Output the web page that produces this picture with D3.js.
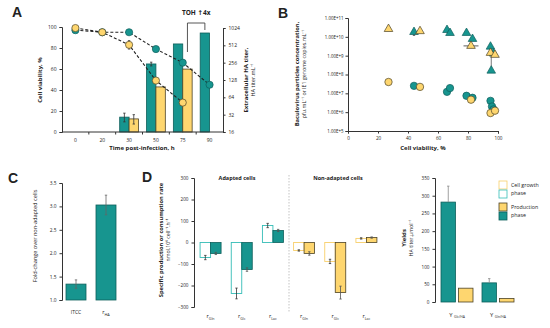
<!DOCTYPE html>
<html><head><meta charset="utf-8">
<script src="https://cdn.jsdelivr.net/npm/d3@7"></script>
<style>
body{margin:0;background:#fff}
svg{display:block}
text{font-family:"Open Sans","Liberation Sans",sans-serif;fill:#222}
</style>
</head><body>
<svg id="chart" width="550" height="328"></svg>
<script>
// ---------- Panel A data ----------
const timeLabels = ["0","20","30","50","75","90"];
const viabilityAdapted = [97,95,95,79,66,45];
const viabilityNonAdapted = [99,95,83,49,28,null];
const viabilityNonAdaptedErr = [0,0,4,2,0,0];
const titerAdapted = [null,null,29,243,541,838];
const titerNonAdapted = [null,null,27,97,198,null];
const titerAdaptedErr = [0,0,5,18,0,0];
const titerNonAdaptedErr = [0,0,5,0,0,0];
const viabilityTicks = [0,20,40,60,80,100];
const titerTicks = [16,32,64,128,256,512,1024];

// ---------- Panel B data ----------
const triAdaptedViab = [44,66,68,79,83,95,97,95.5];
const triAdaptedConc = [1.8e10,2.3e10,1.6e10,1.6e10,7.7e9,3e9,1.3e9,1.6e8];
const triNonAdaptedViab = [27,48,82,95,98];
const triNonAdaptedConc = [2.6e10,2e10,3.3e9,1.4e9,1.1e9];
const cirAdaptedViab = [44,66,68,79,83,95,96,97];
const cirAdaptedConc = [2.5e7,1.2e7,1.9e7,7.4e6,5.8e6,4e6,2e6,1.4e6];
const cirNonAdaptedViab = [27,48,82,95,98];
const cirNonAdaptedConc = [4e7,2.2e7,4.6e6,9e5,1.2e6];
const bViabTicks = [0,20,40,60,80,100];
const bConcTicks = [1e5,1e6,1e7,1e8,1e9,1e10,1e11];

// ---------- Panel C data ----------
const foldCats = ["ITCC","rHA"];
const foldValues = [1.34,3.03];
const foldErr = [0.09,0.21];
const foldTicks = [1.0,1.5,2.0,2.5,3.0,3.5];

// ---------- Panel D data ----------
const rateNames = ["Gln","Glc","Lac","Gln","Glc","Lac"];
const rateIsAdapted = [true,true,true,false,false,false];
const rateGrowth = [-70,-237,79,-37,-88,19];
const rateProduction = [-51,-126,56,-51,-233,23];
const rateGrowthErr = [10,25,10,3,10,3];
const rateProductionErr = [5,8,5,8,30,3];
const rateTicks = [-300,-200,-100,0,100,200,300];

const yieldNames = ["Glc/HA","Gln/HA"];
const yieldAdapted = [282,54];
const yieldNonAdapted = [39,10];
const yieldAdaptedErr = [45,12];
const yieldTicks = [0,50,100,150,200,250,300,350];

// ---------- styles ----------
const TEAL = "#17958f", TEAL_DK = "#0e5f5b", TEAL_LT = "#35bdb7";
const YEL = "#fed66f", YEL_DK = "#4d4325", YEL_LT = "#f8cf6a";
const AX = "#333";
const svg = d3.select("#chart");

function styleAxis(g, fs){
  g.selectAll("path.domain").attr("stroke",AX).attr("stroke-width",1);
  g.selectAll(".tick line").attr("stroke",AX);
  g.selectAll(".tick text").attr("font-size",fs||5).attr("fill","#222")
   .style("font-family",'"Open Sans","Liberation Sans",sans-serif');
}
function panelLetter(t,x,y){
  svg.append("text").attr("x",x).attr("y",y).attr("font-size",14).attr("font-weight",700)
    .style("font-family",'"Liberation Sans",Arial,sans-serif').text(t);
}
function rotLabel(x,y,txt,fs,bold){
  return svg.append("text").attr("transform",`translate(${x},${y}) rotate(-90)`)
    .attr("text-anchor","middle").attr("font-size",fs).attr("font-weight",bold?700:400).text(txt);
}
function errBar(g,x,y1,y2,w,col){
  g.append("line").attr("x1",x).attr("x2",x).attr("y1",y1).attr("y2",y2).attr("stroke",col||"#333").attr("stroke-width",0.8);
  g.append("line").attr("x1",x-w).attr("x2",x+w).attr("y1",y1).attr("y2",y1).attr("stroke",col||"#333").attr("stroke-width",0.8);
  g.append("line").attr("x1",x-w).attr("x2",x+w).attr("y1",y2).attr("y2",y2).attr("stroke",col||"#333").attr("stroke-width",0.8);
}

// ================= PANEL A =================
panelLetter("A",12,17);
const xA = d3.scaleBand().domain(timeLabels).range([62,223]);
const yA = d3.scaleLinear().domain([0,100]).range([132,27]);
const yA2 = d3.scaleLog().base(2).domain([16,1024]).range([132,28]);
const gA = svg.append("g");
const bwA = xA.bandwidth()*0.35;
const cA = t => xA(t)+xA.bandwidth()/2;

timeLabels.forEach((t,i)=>{
  if(titerAdapted[i]!=null){
    gA.append("rect").attr("x",cA(t)-bwA).attr("width",bwA).attr("y",yA2(titerAdapted[i]))
      .attr("height",132-yA2(titerAdapted[i])).attr("fill",TEAL).attr("stroke",TEAL_DK).attr("stroke-width",0.8);
    if(titerAdaptedErr[i]) errBar(gA,cA(t)-bwA/2,yA2(titerAdapted[i]+titerAdaptedErr[i]),yA2(titerAdapted[i]-titerAdaptedErr[i]),1.2);
  }
  if(titerNonAdapted[i]!=null){
    gA.append("rect").attr("x",cA(t)).attr("width",bwA).attr("y",yA2(titerNonAdapted[i]))
      .attr("height",132-yA2(titerNonAdapted[i])).attr("fill",YEL).attr("stroke",YEL_DK).attr("stroke-width",0.8);
    if(titerNonAdaptedErr[i]) errBar(gA,cA(t)+bwA/2,yA2(titerNonAdapted[i]+titerNonAdaptedErr[i]),yA2(titerNonAdapted[i]-titerNonAdaptedErr[i]),1.2);
  }
});
const axA = gA.append("g").attr("transform","translate(62,0)")
  .call(d3.axisLeft(yA).tickValues(viabilityTicks).tickSize(2.5).tickPadding(3));
styleAxis(axA,5);
const axA2 = gA.append("g").attr("transform","translate(223,0)")
  .call(d3.axisRight(yA2).tickValues(titerTicks).tickFormat(d3.format("d")).tickSize(2.5).tickPadding(3));
styleAxis(axA2,5);
const axAx = gA.append("g").attr("transform","translate(0,132)")
  .call(d3.axisBottom(xA).tickSize(0).tickPadding(6));
styleAxis(axAx,5);
axAx.select("path.domain").attr("d","M62,0H223");
timeLabels.slice(1).forEach(t=>{
  gA.append("line").attr("x1",xA(t)).attr("x2",xA(t)).attr("y1",132).attr("y2",134.5).attr("stroke",AX);
});
const lineA = d3.line().defined(d=>d.v!=null).x(d=>cA(d.t)).y(d=>yA(d.v));
const adData = timeLabels.map((t,i)=>({t,v:viabilityAdapted[i]}));
const naData = timeLabels.map((t,i)=>({t,v:viabilityNonAdapted[i]}));
gA.append("path").attr("d",lineA(adData)).attr("fill","none").attr("stroke","#222").attr("stroke-width",1.1).attr("stroke-dasharray","3,2");
gA.append("path").attr("d",lineA(naData)).attr("fill","none").attr("stroke","#222").attr("stroke-width",1.1).attr("stroke-dasharray","3,2");
naData.forEach((d,i)=>{ if(d.v!=null && viabilityNonAdaptedErr[i]) errBar(gA,cA(d.t),yA(d.v+viabilityNonAdaptedErr[i]),yA(d.v-viabilityNonAdaptedErr[i]),1.2);});
adData.forEach(d=>{ gA.append("circle").attr("cx",cA(d.t)).attr("cy",yA(d.v)).attr("r",3.6).attr("fill",TEAL).attr("stroke",TEAL_DK).attr("stroke-width",0.7);});
naData.forEach(d=>{ if(d.v!=null) gA.append("circle").attr("cx",cA(d.t)).attr("cy",yA(d.v)).attr("r",3.6).attr("fill",YEL).attr("stroke",YEL_DK).attr("stroke-width",0.7);});
const bx1 = cA("75")+bwA/2, bx2 = cA("90")-bwA/2;
gA.append("path").attr("d",`M${bx1},52V23H${bx2}V30`).attr("fill","none").attr("stroke","#444").attr("stroke-width",0.9);
const toh = svg.append("text").attr("x",(bx1+bx2)/2).attr("y",15).attr("text-anchor","middle").attr("font-size",6.5).attr("font-weight",700);
toh.append("tspan").text("TOH ");
toh.append("tspan").style("font-family",'"DejaVu Sans",sans-serif').text("\u2191");
toh.append("tspan").text("4x");
rotLabel(42,80,"Cell viability, %",6,true);
rotLabel(248,80,"Extracellular HA titer,",6,true);
rotLabel(255,80,"HA titer.mL\u207B\u00B9",5.5,false);
svg.append("text").attr("x",142).attr("y",150).attr("text-anchor","middle").attr("font-size",6).attr("font-weight",700).text("Time post-infection, h");

// ================= PANEL B =================
panelLetter("B",278,18);
const xB = d3.scaleLinear().domain([0,100]).range([348,498]);
const yB = d3.scaleLog().domain([1e5,1e11]).range([131,18]);
const gB = svg.append("g");
const axBy = gB.append("g").attr("transform","translate(348,0)")
  .call(d3.axisLeft(yB).tickValues(bConcTicks).tickFormat(d=>d.toExponential(2).toUpperCase()).tickSize(2.5).tickPadding(2));
styleAxis(axBy,4.4);
const axBx = gB.append("g").attr("transform","translate(0,131)")
  .call(d3.axisBottom(xB).tickValues(bViabTicks).tickSize(2.5).tickPadding(3));
styleAxis(axBx,4.6);
errBar(gB,xB(44),yB(1.8e10),yB(1.2e10),1.2);
gB.append("line").attr("x1",xB(77)).attr("x2",xB(87)).attr("y1",yB(3.3e9)).attr("y2",yB(3.3e9)).attr("stroke","#333").attr("stroke-width",0.8);
errBar(gB,xB(95.5),yB(1.3e9),yB(1.6e8),1.2,"#555");
const tri = d3.symbol().type(d3.symbolTriangle).size(32);
function triPts(xs,ys,fill,stroke){
  xs.forEach((x,i)=>gB.append("path").attr("d",tri).attr("transform",`translate(${xB(x)},${yB(ys[i])})`)
    .attr("fill",fill).attr("stroke",stroke).attr("stroke-width",0.7));
}
function cirPts(xs,ys,fill,stroke){
  xs.forEach((x,i)=>gB.append("circle").attr("cx",xB(x)).attr("cy",yB(ys[i])).attr("r",3.7)
    .attr("fill",fill).attr("stroke",stroke).attr("stroke-width",0.7));
}
triPts(triAdaptedViab,triAdaptedConc,TEAL,TEAL_DK);
triPts(triNonAdaptedViab,triNonAdaptedConc,YEL,YEL_DK);
cirPts(cirAdaptedViab,cirAdaptedConc,TEAL,TEAL_DK);
cirPts(cirNonAdaptedViab,cirNonAdaptedConc,YEL,YEL_DK);
rotLabel(299,74,"Baculovirus particles concentration,",5.8,true);
rotLabel(305.5,74,"pfu.mL\u207B\u00B9 or IE1 genome copies.mL\u207B\u00B9",5.3,false);
svg.append("text").attr("x",423).attr("y",150).attr("text-anchor","middle").attr("font-size",6).attr("font-weight",700).text("Cell viability, %");

// ================= PANEL C =================
panelLetter("C",8,183);
const xC = d3.scalePoint().domain(foldCats).range([76,106]);
const yC = d3.scaleLinear().domain([1,3.5]).range([300,183]);
const gC = svg.append("g");
foldCats.forEach((c,i)=>{
  gC.append("rect").attr("x",xC(c)-10).attr("width",20).attr("y",yC(foldValues[i])).attr("height",300-yC(foldValues[i]))
    .attr("fill",TEAL).attr("stroke",TEAL_DK).attr("stroke-width",0.8);
  errBar(gC,xC(c),yC(foldValues[i]+foldErr[i]),yC(foldValues[i]-foldErr[i]),1.2,"#666");
});
const axC = gC.append("g").attr("transform","translate(62,0)")
  .call(d3.axisLeft(yC).tickValues(foldTicks).tickFormat(d3.format(".1f")).tickSize(2.5).tickPadding(3));
styleAxis(axC,4.8);
gC.append("text").attr("x",xC("ITCC")).attr("y",314).attr("text-anchor","middle").attr("font-size",5).text("ITCC");
const rl = gC.append("text").attr("x",xC("rHA")).attr("y",314).attr("text-anchor","middle").attr("font-size",5.5);
rl.append("tspan").text("r");
rl.append("tspan").attr("font-size",3.8).attr("dy",1.5).text("HA");
rotLabel(37,236,"Fold-change over non-adapted cells",5.6,false);

// ================= PANEL D (rates) =================
panelLetter("D",142,182);
const idx = d3.range(rateNames.length);
const xD = d3.scaleBand().domain(idx).range([195,382]);
const yD = d3.scaleLinear().domain([-300,300]).range([307,178]);
const gD = svg.append("g");
const bwD = 10.5;
idx.forEach(i=>{
  const c = xD(i)+xD.bandwidth()/2;
  const ad = rateIsAdapted[i];
  const g0 = rateGrowth[i], p0 = rateProduction[i];
  gD.append("rect").attr("x",c-bwD).attr("width",bwD).attr("y",yD(Math.max(0,g0))).attr("height",Math.abs(yD(g0)-yD(0)))
    .attr("fill","#fff").attr("stroke",ad?TEAL_LT:YEL_LT).attr("stroke-width",0.9);
  gD.append("rect").attr("x",c).attr("width",bwD).attr("y",yD(Math.max(0,p0))).attr("height",Math.abs(yD(p0)-yD(0)))
    .attr("fill",ad?TEAL:YEL).attr("stroke",ad?TEAL_DK:YEL_DK).attr("stroke-width",0.8);
  errBar(gD,c-bwD/2,yD(g0+rateGrowthErr[i]),yD(g0-rateGrowthErr[i]),1.2);
  errBar(gD,c+bwD/2,yD(p0+rateProductionErr[i]),yD(p0-rateProductionErr[i]),1.2,"#555");
  const t = gD.append("text").attr("x",c).attr("y",318).attr("text-anchor","middle").attr("font-size",5.5);
  t.append("tspan").text("r");
  t.append("tspan").attr("font-size",3.6).attr("dy",1.5).text(rateNames[i]);
});
const axD = gD.append("g").attr("transform","translate(194,0)")
  .call(d3.axisLeft(yD).tickValues(rateTicks).tickSize(2.5).tickPadding(3));
styleAxis(axD,4.6);
gD.append("line").attr("x1",289).attr("x2",289).attr("y1",175).attr("y2",312).attr("stroke","#aaa").attr("stroke-width",0.7).attr("stroke-dasharray","1.5,1.5");
svg.append("text").attr("x",237).attr("y",180).attr("text-anchor","middle").attr("font-size",5.5).attr("font-weight",700).text("Adapted cells");
svg.append("text").attr("x",338).attr("y",180).attr("text-anchor","middle").attr("font-size",5.5).attr("font-weight",700).text("Non-adapted cells");
rotLabel(163,240,"Specific production or consumption rate",5.7,true);
rotLabel(170,240,"nmol.10\u2076 cell\u207B\u00B9.h\u207B\u00B9",5.2,false);

// ================= PANEL D (yields) =================
const xY = d3.scalePoint().domain(yieldNames).range([457,498]);
const yY = d3.scaleLinear().domain([0,350]).range([302,178]);
const gY = svg.append("g");
const bwY = 14.5;
yieldNames.forEach((n,i)=>{
  const c = xY(n);
  gY.append("rect").attr("x",c-bwY-1.5).attr("width",bwY).attr("y",yY(yieldAdapted[i])).attr("height",302-yY(yieldAdapted[i]))
    .attr("fill",TEAL).attr("stroke",TEAL_DK).attr("stroke-width",0.8);
  gY.append("rect").attr("x",c+1.5).attr("width",bwY).attr("y",yY(yieldNonAdapted[i])).attr("height",302-yY(yieldNonAdapted[i]))
    .attr("fill",YEL).attr("stroke",YEL_DK).attr("stroke-width",0.8);
  const ex = c-bwY/2-1.5;
  gY.append("line").attr("x1",ex).attr("x2",ex).attr("y1",yY(yieldAdapted[i])).attr("y2",yY(yieldAdapted[i]+yieldAdaptedErr[i])).attr("stroke","#888").attr("stroke-width",0.8);
  gY.append("line").attr("x1",ex-1.2).attr("x2",ex+1.2).attr("y1",yY(yieldAdapted[i]+yieldAdaptedErr[i])).attr("y2",yY(yieldAdapted[i]+yieldAdaptedErr[i])).attr("stroke","#888").attr("stroke-width",0.8);
  const t = gY.append("text").attr("x",c).attr("y",317).attr("text-anchor","middle").attr("font-size",5.8);
  t.append("tspan").text("Y ");
  t.append("tspan").attr("font-size",3.4).attr("dy",1.2).text(n);
});
const axY = gY.append("g").attr("transform","translate(435,0)")
  .call(d3.axisLeft(yY).tickValues(yieldTicks).tickSize(2.5).tickPadding(3));
styleAxis(axY,4.6);
rotLabel(406,238,"Yields",6,true);
rotLabel(413,238,"HA titer.\u00B5mol\u207B\u00B9",5.3,false);

const legItems = [
  {y:181,fill:"#fff",stroke:YEL_LT},{y:190,fill:"#fff",stroke:TEAL_LT},
  {y:203,fill:YEL,stroke:YEL_DK},{y:212,fill:TEAL,stroke:TEAL_DK}
];
legItems.forEach(d=>svg.append("rect").attr("x",499).attr("y",d.y).attr("width",8).attr("height",8).attr("fill",d.fill).attr("stroke",d.stroke).attr("stroke-width",0.8));
[["Cell growth",187],["phase",195],["Production",208.5],["phase",216.5]].forEach(([t,y])=>
  svg.append("text").attr("x",511).attr("y",y).attr("font-size",5.3).attr("fill","#333").text(t));
</script>
</body></html>
